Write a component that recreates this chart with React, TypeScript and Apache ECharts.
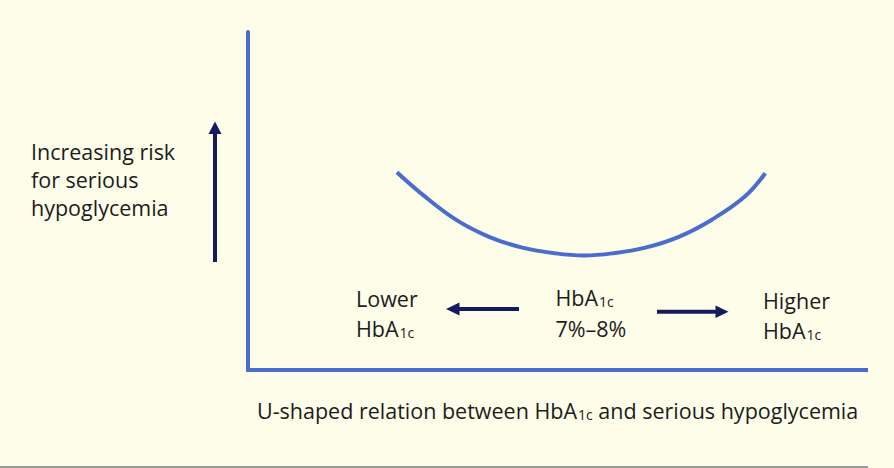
import React, { useEffect, useRef } from "react";
import * as echarts from "echarts";

// U-shaped curve (x: relative HbA1c position, y: relative risk)
const curveX = [24.1, 28.3, 33.7, 39.0, 44.4, 49.8, 54.4, 58.9, 64.3, 69.7, 75.0, 80.4, 83.7];
const curveY = [58.5, 51.8, 44.4, 39.4, 36.2, 34.5, 33.9, 34.5, 36.2, 39.4, 44.4, 51.3, 58.2];

const riskLabel = ["Increasing risk", "for serious", "hypoglycemia"];
const lowerLabel = ["Lower", "HbA{sub|1c}"];
const midLabel = ["HbA{sub|1c}", "7%–8%"];
const higherLabel = ["Higher", "HbA{sub|1c}"];
const caption = "U-shaped relation between HbA{sub|1c} and serious hypoglycemia";

const BLUE = "#4a6ccc";
const NAVY = "#141c5e";
const INK = "#1c1c1c";
const FONT = "Open Sans";
const FS = 21.5;

function txt(text: string, x: number, y: number) {
  return {
    type: "text",
    x,
    y,
    silent: true,
    style: {
      text,
      fill: INK,
      fontSize: FS,
      fontFamily: FONT,
      align: "left",
      verticalAlign: "middle",
      rich: {
        sub: {
          fill: INK,
          fontSize: 14,
          fontFamily: FONT,
          padding: [7, 0, 0, 1],
        },
      },
    },
  };
}

export default function App() {
  const ref = useRef<HTMLDivElement>(null);
  useEffect(() => {
    if (!ref.current) return;
    const chart = echarts.init(ref.current, null, { renderer: "svg" });
    const graphics: any[] = [];
    riskLabel.forEach((t, i) => graphics.push(txt(t, 31, 151.5 + i * 28)));
    lowerLabel.forEach((t, i) => graphics.push(txt(t, 356, 298 + i * 30.5)));
    midLabel.forEach((t, i) => graphics.push(txt(t, 555.5, 297.5 + i * 30.5)));
    higherLabel.forEach((t, i) => graphics.push(txt(t, 763, 300.5 + i * 30)));
    graphics.push(txt(caption, 257, 410.5));
    // arrows
    graphics.push({ type: "line", silent: true, shape: { x1: 215, y1: 262, x2: 215, y2: 132 }, style: { stroke: NAVY, lineWidth: 4 } });
    graphics.push({ type: "polygon", silent: true, shape: { points: [[215, 121.5], [208.5, 134], [221.5, 134]] }, style: { fill: NAVY } });
    graphics.push({ type: "line", silent: true, shape: { x1: 519, y1: 309, x2: 457, y2: 309 }, style: { stroke: NAVY, lineWidth: 4 } });
    graphics.push({ type: "polygon", silent: true, shape: { points: [[446, 309], [459.5, 302.5], [459.5, 315.5]] }, style: { fill: NAVY } });
    graphics.push({ type: "line", silent: true, shape: { x1: 657, y1: 311.8, x2: 718, y2: 311.8 }, style: { stroke: NAVY, lineWidth: 4 } });
    graphics.push({ type: "polygon", silent: true, shape: { points: [[728.5, 311.8], [715.5, 305.5], [715.5, 318]] }, style: { fill: NAVY } });
    // bottom rule
    graphics.push({ type: "rect", silent: true, shape: { x: 0, y: 466, width: 868, height: 2 }, style: { fill: "#9a9a9a" } });

    chart.setOption({
      animation: false,
      backgroundColor: "#fdfde9",
      grid: { left: 248, right: 28, top: 32, bottom: 98 },
      xAxis: {
        type: "value",
        min: 0,
        max: 100,
        axisLine: { show: true, onZero: false, lineStyle: { color: BLUE, width: 4, cap: "square" } },
        axisTick: { show: false },
        axisLabel: { show: false },
        splitLine: { show: false },
      },
      yAxis: {
        type: "value",
        min: 0,
        max: 100,
        axisLine: { show: true, onZero: false, lineStyle: { color: BLUE, width: 4 } },
        axisTick: { show: false },
        axisLabel: { show: false },
        splitLine: { show: false },
      },
      series: [
        {
          type: "line",
          data: curveX.map((x, i) => [x, curveY[i]]),
          smooth: 0.4,
          symbol: "none",
          lineStyle: { color: BLUE, width: 4 },
          silent: true,
        },
      ],
      graphic: graphics,
    });
    return () => chart.dispose();
  }, []);
  return (
    <div
      ref={ref}
      style={{ position: "absolute", left: 0, top: 0, width: 894, height: 468 }}
    />
  );
}
